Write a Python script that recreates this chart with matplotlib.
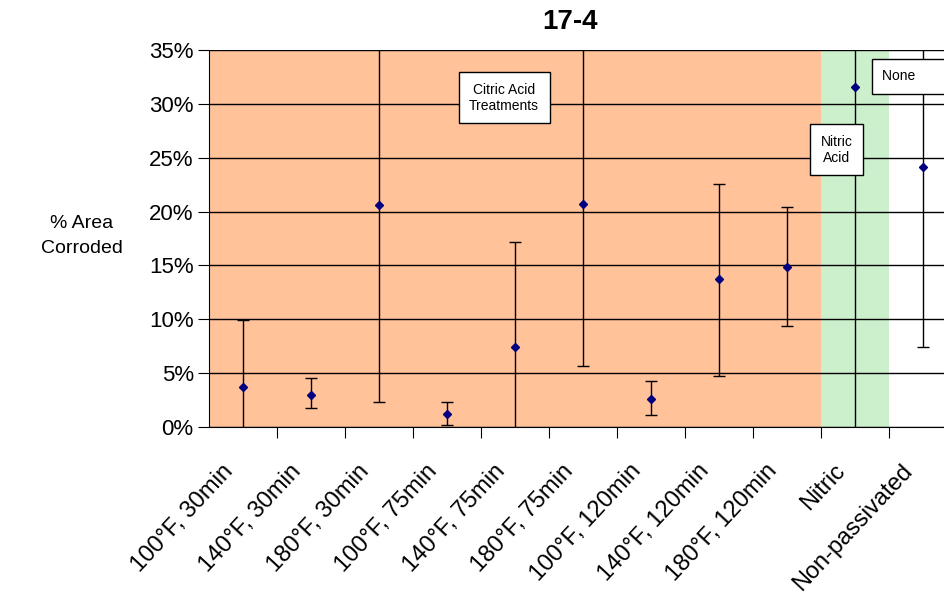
import numpy as np
import matplotlib.pyplot as plt
from matplotlib.transforms import ScaledTranslation

plt.rcParams['font.family'] = ['Liberation Sans', 'DejaVu Sans']

categories = ['100°F, 30min', '140°F, 30min', '180°F, 30min',
              '100°F, 75min', '140°F, 75min', '180°F, 75min',
              '100°F, 120min', '140°F, 120min', '180°F, 120min',
              'Nitric', 'Non-passivated']
means = [3.7, 3.0, 20.6, 1.2, 7.4, 20.7, 2.6, 13.7, 14.9, 31.6, 24.1]
lows = [-2.0, 1.8, 2.3, 0.2, -2.0, 5.7, 1.1, 4.7, 9.4, -1.0, 7.4]
highs = [9.9, 4.55, 40.0, 2.3, 17.2, 35.4, 4.3, 22.6, 20.4, 64.0, 40.0]
yticks = [0, 5, 10, 15, 20, 25, 30, 35]

fig = plt.figure(figsize=(9.45, 6.04), dpi=100)
ax = fig.add_axes([209 / 945, 1 - 427 / 604, 1 - 209 / 945, 377 / 604])

x = np.arange(len(categories))
means = np.array(means)
err = [means - np.array(lows), np.array(highs) - means]

ax.axvspan(-0.5, 8.5, color='#FFC299', lw=0, zorder=0)
ax.axvspan(8.5, 9.5, color='#CCEFCC', lw=0, zorder=0)
for v in yticks:
    ax.axhline(v, color='black', lw=1, zorder=1)

ax.errorbar(x, means, yerr=err, fmt='D', color='#000080', ms=4.5,
            ecolor='black', elinewidth=1, capsize=4, capthick=1, zorder=3)

ax.set_yticks(yticks)
ax.set_yticklabels([f'{v}%' for v in yticks], fontsize=16)
ax.set_xticks(x + 0.5, minor=False)
ax.set_xticklabels([])
ax.set_xticks(x, minor=True)
ax.set_xticklabels(categories, minor=True, rotation=47, ha='right',
                   rotation_mode='anchor', fontsize=17)
ax.tick_params(axis='x', which='major', length=8, direction='out')
ax.tick_params(axis='x', which='minor', length=0, pad=24)
ax.tick_params(axis='y', length=8, pad=3)
# labels sit a bit left of the category centre
shift = ScaledTranslation(-22 / 100, 0, fig.dpi_scale_trans)
for lab in ax.get_xticklabels(minor=True):
    lab.set_transform(lab.get_transform() + shift)
ax.set_xlim(-0.5, 10.32)
ax.set_ylim(0, 35)
for s in ['top', 'right']:
    ax.spines[s].set_visible(False)

box = dict(boxstyle='square,pad=0.75', fc='white', ec='black', lw=1)
ax.text(0.401, 0.873, 'Citric Acid\nTreatments', transform=ax.transAxes,
        ha='center', va='center', fontsize=10, bbox=box, zorder=4)
ax.text(0.853, 0.735, 'Nitric\nAcid', transform=ax.transAxes,
        ha='center', va='center', fontsize=10, bbox=box, zorder=4)
ax.text(0.915, 0.930, 'None      ', transform=ax.transAxes,
        ha='left', va='center', fontsize=10, bbox=box, zorder=4)

fig.text(570 / 945, 1 - 22 / 604, '17-4', ha='center', va='center',
         fontsize=20, fontweight='bold')
fig.text(82 / 945, 1 - 236 / 604, '% Area\nCorroded', ha='center',
         va='center', fontsize=14, linespacing=1.6)

fig.savefig('out.png', dpi=100)
